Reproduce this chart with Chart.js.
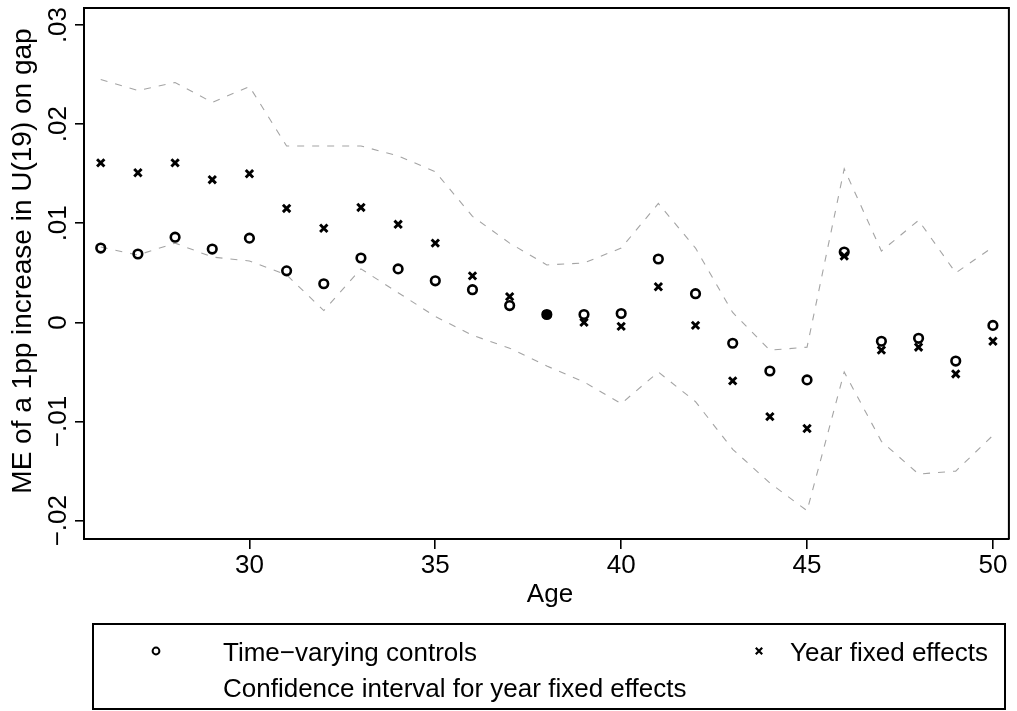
<!DOCTYPE html>
<html>
<head>
<meta charset="utf-8">
<script src="https://cdn.jsdelivr.net/npm/chart.js@4/dist/chart.umd.min.js"></script>
<style>
  html, body { margin: 0; padding: 0; background: #fff; }
  #wrap { width: 1017px; height: 711px; }
</style>
</head>
<body>
<div id="wrap"><canvas id="c" width="1017" height="711"></canvas></div>
<script>
// Marginal effect of a 1pp increase in U(19) on the gap, by age
const ages = [26, 27, 28, 29, 30, 31, 32, 33, 34, 35, 36, 37, 38, 39, 40, 41, 42, 43, 44, 45, 46, 47, 48, 49, 50];
const timeVarying = [0.0075, 0.0069, 0.0086, 0.0074, 0.0085, 0.0052, 0.0039, 0.0065, 0.0054, 0.0042, 0.0033, 0.0017, 0.0008,
                     0.0008, 0.0009, 0.0064, 0.0029, -0.0021, -0.0049, -0.0058, 0.0071, -0.0019, -0.0016, -0.0039, -0.0003];
const yearFixed = [0.0161, 0.0151, 0.0161, 0.0144, 0.0150, 0.0115, 0.0095, 0.0116, 0.0099, 0.0080, 0.0047, 0.0026, 0.0008,
                   0.0000, -0.0004, 0.0036, -0.0003, -0.0059, -0.0095, -0.0107, 0.0067, -0.0028, -0.0025, -0.0052, -0.0019];
const ciUpper = [0.0245, 0.0234, 0.0242, 0.0222, 0.0238, 0.0178, 0.0178, 0.0178, 0.0168, 0.0152, 0.0107, 0.0080, 0.0058,
                 0.0060, 0.0075, 0.0120, 0.0075, 0.0010, -0.0028, -0.0025, 0.0155, 0.0072, 0.0103, 0.0050, 0.0076];
const ciLower = [0.0076, 0.0068, 0.0080, 0.0066, 0.0062, 0.0048, 0.0012, 0.0054, 0.0030, 0.0006, -0.0013, -0.0026, -0.0044,
                 -0.0060, -0.0082, -0.0050, -0.0080, -0.0128, -0.0162, -0.0190, -0.0050, -0.0120, -0.0153, -0.0150, -0.0114];
const baseAge = 38;

const xTickValues = [30, 35, 40, 45, 50];
const yTickValues = [-0.02, -0.01, 0, 0.01, 0.02, 0.03];
const yTickLabels = ['\u2212.02', '\u2212.01', '0', '.01', '.02', '.03'];

const xTitle = 'Age';
const yTitle = 'ME of a 1pp increase in U(19) on gap';
const labelTV = 'Time\u2212varying controls';
const labelFE = 'Year fixed effects';
const labelCI = 'Confidence interval for year fixed effects';

const FONT = "'Liberation Sans', Arial, Helvetica, sans-serif";
const toPoints = (vals) => ages.map((a, i) => ({ x: a, y: vals[i] }));

// Frame, rotated y labels, axis titles and the boxed legend
const decorations = {
  id: 'decorations',
  afterDraw(chart) {
    const ctx = chart.ctx;
    const area = chart.chartArea;
    const ys = chart.scales.y;
    ctx.save();
    ctx.strokeStyle = '#000';
    ctx.lineWidth = 2;
    ctx.beginPath();
    ctx.moveTo(area.left, area.top);
    ctx.lineTo(area.right, area.top);
    ctx.lineTo(area.right, area.bottom);
    ctx.stroke();

    ctx.fillStyle = '#000';
    ctx.font = '26px ' + FONT;
    ctx.textAlign = 'center';
    ctx.textBaseline = 'alphabetic';
    yTickValues.forEach((v, i) => {
      const py = ys.getPixelForValue(v);
      ctx.save();
      ctx.translate(66, py);
      ctx.rotate(-Math.PI / 2);
      ctx.fillText(yTickLabels[i], 0, 0);
      ctx.restore();
    });

    ctx.save();
    ctx.font = '28px ' + FONT;
    ctx.translate(31, 261);
    ctx.rotate(-Math.PI / 2);
    ctx.fillText(yTitle, 0, 0);
    ctx.restore();

    ctx.fillText(xTitle, 550, 602);

    // legend
    const box = { left: 93, top: 624, right: 1005, bottom: 709 };
    ctx.lineWidth = 2;
    ctx.strokeRect(box.left, box.top, box.right - box.left, box.bottom - box.top);
    ctx.textAlign = 'left';
    ctx.fillText(labelTV, 223, 661);
    ctx.fillText(labelCI, 223, 697);
    ctx.textAlign = 'right';
    ctx.fillText(labelFE, 988, 661);

    ctx.lineWidth = 2;
    ctx.beginPath();
    ctx.arc(156, 651, 3.4, 0, Math.PI * 2);
    ctx.stroke();
    ctx.lineWidth = 2.2;
    ctx.beginPath();
    const cx = 759, cy = 651, h = 3.2;
    ctx.moveTo(cx - h, cy - h); ctx.lineTo(cx + h, cy + h);
    ctx.moveTo(cx - h, cy + h); ctx.lineTo(cx + h, cy - h);
    ctx.stroke();
    ctx.restore();
  }
};

const ciStyle = {
  type: 'line',
  showLine: true,
  borderColor: '#a4a4a4',
  borderWidth: 1.1,
  borderDash: [7, 8],
  pointRadius: 0,
  fill: false,
  tension: 0,
  order: 3
};

new Chart(document.getElementById('c'), {
  type: 'scatter',
  data: {
    datasets: [
      {
        label: labelTV,
        data: toPoints(timeVarying),
        pointStyle: 'circle',
        pointRadius: 4.3,
        pointHoverRadius: 4.3,
        pointBorderWidth: 2.6,
        borderColor: '#000',
        pointBorderColor: '#000',
        pointBackgroundColor: (c) => (c.raw && c.raw.x === baseAge ? '#000' : 'rgba(0,0,0,0)'),
        order: 1
      },
      {
        label: labelFE,
        data: toPoints(yearFixed),
        pointStyle: 'crossRot',
        pointRadius: 5.2,
        pointHoverRadius: 5.2,
        pointBorderWidth: 2.9,
        borderColor: '#000',
        pointBorderColor: '#000',
        order: 2
      },
      Object.assign({ label: labelCI, data: toPoints(ciUpper) }, ciStyle),
      Object.assign({ label: labelCI, data: toPoints(ciLower) }, ciStyle)
    ]
  },
  options: {
    responsive: false,
    animation: false,
    events: [],
    layout: { padding: { top: 7, right: 3, left: 0, bottom: 0 } },
    plugins: {
      legend: { display: false },
      tooltip: { enabled: false },
      title: { display: false }
    },
    scales: {
      x: {
        type: 'linear',
        min: 25.55,
        max: 50.43,
        afterBuildTicks: (s) => { s.ticks = xTickValues.map(v => ({ value: v })); },
        afterFit: (s) => { s.height = 172; },
        ticks: {
          color: '#000',
          font: { family: FONT, size: 26 },
          padding: 1,
          maxRotation: 0,
          autoSkip: false
        },
        grid: {
          display: true,
          drawOnChartArea: false,
          drawTicks: true,
          tickLength: 10,
          color: '#000',
          lineWidth: 1.6
        },
        border: { display: true, color: '#000', width: 2 },
        title: { display: false }
      },
      y: {
        type: 'linear',
        min: -0.02185,
        max: 0.03171,
        afterBuildTicks: (s) => { s.ticks = yTickValues.map(v => ({ value: v })); },
        afterFit: (s) => { s.width = 84; },
        ticks: { display: false },
        grid: {
          display: true,
          drawOnChartArea: false,
          drawTicks: true,
          tickLength: 9,
          color: '#000',
          lineWidth: 1.6
        },
        border: { display: true, color: '#000', width: 2 },
        title: { display: false }
      }
    }
  },
  plugins: [decorations]
});
</script>
</body>
</html>
